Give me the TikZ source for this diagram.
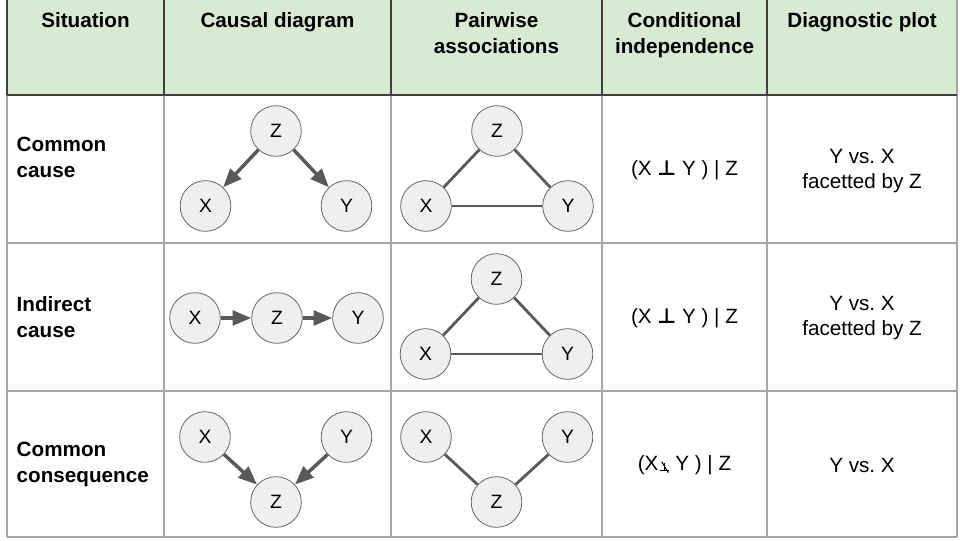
\documentclass[tikz,border=0pt]{standalone}
\usepackage{fontspec}
\setmainfont{Liberation Sans}
\newfontfamily\tackfont{DejaVu Sans}
\usetikzlibrary{arrows.meta}
\frenchspacing
\definecolor{header-green}{HTML}{D9EAD3}
\definecolor{node-fill}{HTML}{EFEFEF}
\definecolor{edge-gray}{HTML}{595959}
\newcommand{\notindep}{\hspace{0.8pt}\tikz[baseline=0pt, x=1pt, y=1pt, line width=0.75pt]{\draw (0,0) -- (6.5,0); \draw (3.25,0) -- (3.25,5.5); \draw (1.2,6.5) -- (6.2,-1.8);}\hspace{4.5pt}}
\tikzset{
    var-node/.style = {draw=black!60, fill=node-fill, line width=0.6pt, circle, minimum size=38pt, inner sep=0pt, font=\fontsize{14.5}{15}\selectfont},
    header-text/.style = {anchor=north, align=center, font=\fontsize{15.5}{19.5}\selectfont\bfseries},
    situation-text/.style = {anchor=west, align=left, font=\fontsize{15.5}{19.5}\selectfont\bfseries},
    cell-text/.style = {align=center, font=\fontsize{15.5}{19}\selectfont},
    causal-arrow/.style = {draw=edge-gray, line width=2.6pt, -{Triangle[length=14pt, width=11pt]}},
    assoc-line/.style = {draw=edge-gray, line width=2.1pt},
    grid-line/.style = {draw=black!35, line width=0.8pt},
    header-line/.style = {draw=black!75, line width=0.9pt},
}

\begin{document}
\begin{tikzpicture}[x=0.75pt, y=-0.75pt]
\useasboundingbox (0,0) rectangle (960,540);
\fill[header-green] (7,0) rectangle (957,95);
\foreach \xcol in {164,391,602,767} {
    \draw[grid-line] (\xcol,95) -- (\xcol,537);
    \draw[header-line] (\xcol,0) -- (\xcol,95);
}
\draw[grid-line] (7,95) -- (7,537);
\draw[header-line] (7,0) -- (7,95);
\draw[grid-line] (957,0) -- (957,537);
\foreach \yrow in {243,391,537} {
    \draw[grid-line] (7,\yrow) -- (957,\yrow);
}
\draw[header-line] (7,95) -- (957,95);

\node[header-text] (h-situation) at (85.5,8) {Situation};
\node[header-text] (h-causal) at (277.5,8) {Causal diagram};
\node[header-text] (h-pairwise) at (496.5,8) {Pairwise\\associations};
\node[header-text] (h-cond) at (684.5,8) {Conditional\\independence};
\node[header-text] (h-plot) at (862,8) {Diagnostic plot};

\node[situation-text] (s-common) at (12,157) {Common\\cause};
\node[situation-text] (s-indirect) at (12,317) {Indirect\\cause};
\node[situation-text] (s-conseq) at (12,464) {Common\\consequence};

\node[cell-text] (c-common) at (684.5,170) {(X {\tackfont\bfseries ⊥} Y ) | Z};
\node[cell-text] (c-indirect) at (684.5,318) {(X {\tackfont\bfseries ⊥} Y ) | Z};
\node[cell-text] (c-conseq) at (684.5,465) {(X\notindep Y ) | Z};

\node[cell-text] (p-common) at (862,171) {Y vs. X\\facetted by Z};
\node[cell-text] (p-indirect) at (862,318) {Y vs. X\\facetted by Z};
\node[cell-text] (p-conseq) at (862,465) {Y vs. X};

\node[var-node] (cc-z) at (276,131) {Z};
\node[var-node] (cc-x) at (205.5,206) {X};
\node[var-node] (cc-y) at (346.5,206) {Y};
\draw[causal-arrow] (cc-z) -- (cc-x);
\draw[causal-arrow] (cc-z) -- (cc-y);

\node[var-node] (pc-z) at (497,131) {Z};
\node[var-node] (pc-x) at (426,206) {X};
\node[var-node] (pc-y) at (568,206) {Y};
\draw[assoc-line] (pc-z) -- (pc-x);
\draw[assoc-line] (pc-z) -- (pc-y);
\draw[assoc-line] (pc-x) -- (pc-y);

\node[var-node] (ci-x) at (195,318) {X};
\node[var-node] (ci-z) at (277,318) {Z};
\node[var-node] (ci-y) at (358,318) {Y};
\draw[causal-arrow] (ci-x) -- (ci-z);
\draw[causal-arrow] (ci-z) -- (ci-y);

\node[var-node] (pi-z) at (496.5,279) {Z};
\node[var-node] (pi-x) at (425.5,354) {X};
\node[var-node] (pi-y) at (567.5,354) {Y};
\draw[assoc-line] (pi-z) -- (pi-x);
\draw[assoc-line] (pi-z) -- (pi-y);
\draw[assoc-line] (pi-x) -- (pi-y);

\node[var-node] (cq-x) at (205,437) {X};
\node[var-node] (cq-y) at (346.5,437) {Y};
\node[var-node] (cq-z) at (276,502) {Z};
\draw[causal-arrow] (cq-x) -- (cq-z);
\draw[causal-arrow] (cq-y) -- (cq-z);

\node[var-node] (pq-x) at (426,437) {X};
\node[var-node] (pq-y) at (567.5,437) {Y};
\node[var-node] (pq-z) at (496.5,502) {Z};
\draw[assoc-line] (pq-x) -- (pq-z);
\draw[assoc-line] (pq-y) -- (pq-z);
\end{tikzpicture}
\end{document}
